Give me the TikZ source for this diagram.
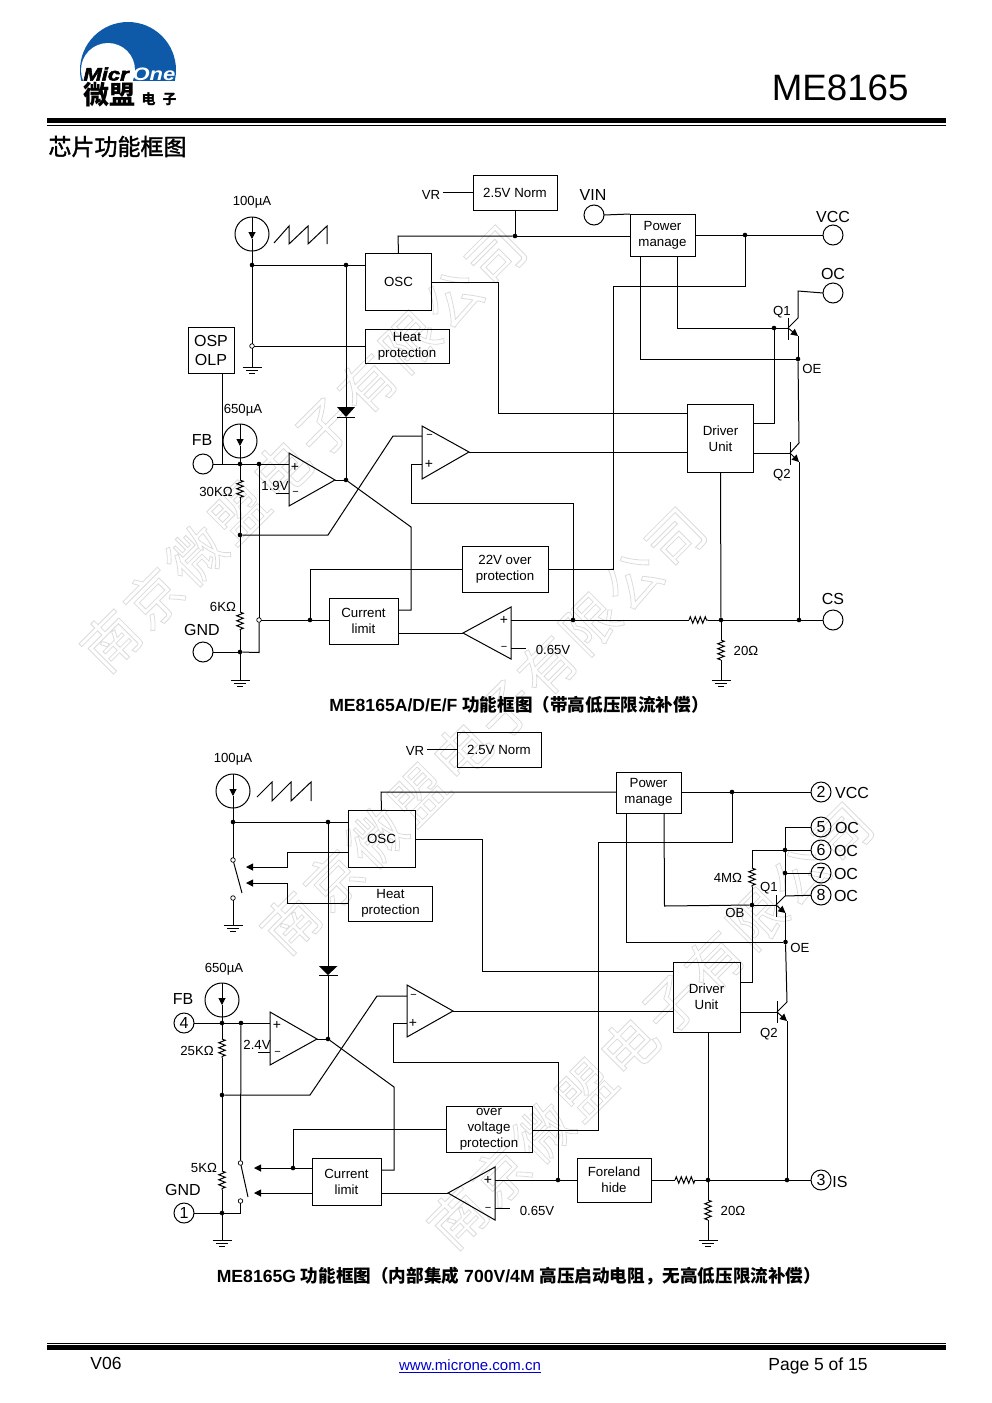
\documentclass[tikz,border=0pt]{standalone}
\usepackage{fontspec}
\setmainfont{Liberation Sans}
\newfontfamily\cjk{Noto Sans CJK SC}
\newfontfamily\wmfont{Noto Sans CJK SC}[LetterSpace=8]
\usetikzlibrary{arrows.meta, decorations.pathmorphing}
\definecolor{microblue}{HTML}{0F5AA8}
\definecolor{linkblue}{HTML}{0000CC}

\begin{document}
\begin{tikzpicture}[
    x=1pt, y=-1pt,
    line width=1pt,
    box/.style={draw, inner sep=0pt, outer sep=0pt, align=center, font=\fontsize{13.3}{16}\selectfont},
    pin/.style={circle, draw, minimum size=20pt, inner sep=0pt, outer sep=0pt, font=\fontsize{16}{16}\selectfont},
    source/.style={circle, draw, minimum size=34pt, inner sep=0pt, outer sep=0pt},
    dotnode/.style={circle, fill, minimum size=4.6pt, inner sep=0pt, outer sep=0pt},
    opennode/.style={circle, draw, fill=white, line width=0.7pt, minimum size=4.6pt, inner sep=0pt, outer sep=0pt},
    lbl/.style={inner sep=0pt, yshift=-0.7pt, font=\fontsize{13.2}{15}\selectfont},
    biglbl/.style={inner sep=0pt, yshift=-0.8pt, font=\fontsize{16}{18}\selectfont},
    signlbl/.style={inner sep=0pt, font=\fontsize{14}{14}\selectfont},
    minuslbl/.style={inner sep=0pt, font=\fontsize{11}{11}\selectfont},
    caption/.style={inner sep=0pt, font=\fontsize{17.6}{19}\selectfont\bfseries},
    footer/.style={inner sep=0pt, font=\fontsize{17.5}{19}\selectfont},
    res/.style={decorate, decoration={zigzag, segment length=5pt, amplitude=3.2pt}},
    tipline/.style={-{Triangle[length=7pt, width=7pt]}},
    wmark/.style={rotate=45, inner sep=0pt, text=black!14, font=\wmfont\fontsize{56}{56}\selectfont}
]
\useasboundingbox (0,0) rectangle (991,1403);

% Watermarks
\node[wmark] (wma) at (303,448) {\special{pdf:code q 1 Tr 0.8 w}南京微盟电子有限公司\special{pdf:code Q}};
\node[wmark] (wmb) at (483,730) {\special{pdf:code q 1 Tr 0.8 w}南京微盟电子有限公司\special{pdf:code Q}};
\node[wmark] (wmc) at (650,1025) {\special{pdf:code q 1 Tr 0.8 w}南京微盟电子有限公司\special{pdf:code Q}};

% Header
\begin{scope}
\clip (70,15) rectangle (185,80);
\fill[microblue] (128,70) circle[radius=48pt];
\fill[white] (108,70) circle[radius=27pt];
\end{scope}
\node[anchor=base west, inner sep=0pt, font=\fontsize{18}{18}\selectfont\bfseries\itshape] (logoa) at (83,80.5) {\special{pdf:code q 2 Tr 0.5 w}\scalebox{1.22}[1]{Micr}\special{pdf:code Q}};
\node[anchor=base west, inner sep=0pt, text=white, font=\fontsize{18}{18}\selectfont\bfseries\itshape] (logob) at (132,80.5) {\scalebox{1.22}[1]{One}};
\node[anchor=west, inner sep=0pt, font=\cjk\fontsize{26}{26}\selectfont\bfseries] (logoc) at (83,95) {微盟};
\node[anchor=west, inner sep=0pt, font=\cjk\fontsize{14}{14}\selectfont\bfseries] (logod) at (141,99) {电\,\,\,子};
\node[anchor=east, inner sep=0pt, font=\fontsize{36.7}{38}\selectfont] (partno) at (909,88) {ME8165};
\fill (47,118) rectangle (946,123);
\fill (47,124.5) rectangle (946,125.6);
\node[anchor=west, inner sep=0pt, font=\cjk\fontsize{23}{23}\selectfont] (heading) at (48,146.5) {\special{pdf:code q 2 Tr 0.35 w}芯片功能框图\special{pdf:code Q}};

% Upper diagram: blocks
\node[box, minimum width=66, minimum height=57] (osc) at (398.5,281.5) {OSC};
\node[box, minimum width=84, minimum height=34] (heat) at (407,346) {Heat\\protection};
\node[box, minimum width=46, minimum height=46, font=\fontsize{16}{19}\selectfont] (osp) at (211,350) {OSP\\OLP};
\node[box, minimum width=84, minimum height=35] (norm) at (515,192.5) {2.5V Norm};
\node[box, minimum width=65, minimum height=42] (power) at (662.5,235) {Power\\manage};
\node[box, minimum width=86, minimum height=46] (over) at (505,569) {22V over\\protection};
\node[box, minimum width=69, minimum height=46] (climit) at (363.5,621) {Current\\limit};
\node[box, minimum width=66, minimum height=68] (driver) at (720.5,438.5) {Driver\\Unit};

% Upper diagram: pins and sources
\node[pin] (vin) at (594,215) {};
\node[pin] (vcc) at (833,235) {};
\node[pin] (oc) at (833,293) {};
\node[pin] (cs) at (833,620) {};
\node[pin] (fb) at (203,464) {};
\node[pin] (gnd) at (203,652) {};
\node[source] (isa) at (252,234) {};
\node[source] (isb) at (240,441) {};

% Upper diagram: junctions
\node[dotnode] (ja) at (252,265) {};
\node[dotnode] (jb) at (346,265) {};
\node[dotnode] (jc) at (515,236) {};
\node[dotnode] (jd) at (745,235) {};
\node[dotnode] (je) at (774,328) {};
\node[dotnode] (jf) at (798,359) {};
\node[dotnode] (jg) at (240,464) {};
\node[dotnode] (jh) at (259,464) {};
\node[dotnode] (ji) at (346,480) {};
\node[dotnode] (jj) at (240,535) {};
\node[dotnode] (jk) at (310,620) {};
\node[dotnode] (jl) at (240,652) {};
\node[dotnode] (jm) at (573,620) {};
\node[dotnode] (jn) at (721,620) {};
\node[dotnode] (jo) at (799,620) {};
\node[opennode] (oa) at (252,346) {};
\node[opennode] (ob) at (259,620) {};

% Upper diagram: comparators
\coordinate (cmpaout) at (335,480);
\coordinate (cmpbout) at (469,452);
\coordinate (cmpcout) at (463,633);
\draw (289,453) -- (289,506) -- (cmpaout) -- cycle;
\draw (422,426) -- (422,479) -- (cmpbout) -- cycle;
\draw (511,607) -- (511,659) -- (cmpcout) -- cycle;
\node[signlbl] (pa) at (295,467) {+};
\node[minuslbl] (ma) at (295.5,493) {−};
\node[signlbl] (pb) at (429,464) {+};
\node[minuslbl] (mb) at (429.5,436) {−};
\node[signlbl] (pc) at (504,620) {+};
\node[minuslbl] (mc) at (504,648) {−};
\coordinate (cmpaplus) at (289,464);
\coordinate (cmpaminus) at (289,493);
\coordinate (cmpavref) at (276,493);
\coordinate (cmpbplus) at (422,464);
\coordinate (cmpbminus) at (422,436);
\coordinate (cmpcplus) at (511,620);
\coordinate (cmpcminus) at (511,648);
\coordinate (cmpcvref) at (526,648);

% Upper diagram: resistors and diode
\coordinate (ra) at (240,480);
\coordinate (rb) at (240,498);
\coordinate (rc) at (240,612);
\coordinate (rd) at (240,630);
\coordinate (re) at (689,620);
\coordinate (rf) at (708,620);
\coordinate (rg) at (721,640);
\coordinate (rh) at (721,660);
\draw[res] (ra) -- (rb);
\draw[res] (rc) -- (rd);
\draw[res] (re) -- (rf);
\draw[res] (rg) -- (rh);
\coordinate (diodea) at (346,407);
\coordinate (diodeb) at (346,417);
\fill (337,407) -- (355,407) -- (diodeb) -- cycle;
\draw (337,417.5) -- (355,417.5);

% Upper diagram: transistors
\coordinate (qab) at (788,328);
\coordinate (qac) at (798,318);
\coordinate (qae) at (798,336);
\coordinate (qbb) at (790,453);
\coordinate (qbc) at (799,443);
\coordinate (qbe) at (799,462);
\draw (788,318) -- (788,340);
\draw (790,442) -- (790,465);
\draw (qab) -- (qac);
\draw[tipline] (qab) -- (qae);
\draw (qbb) -- (qbc);
\draw[tipline] (qbb) -- (qbe);

% Upper diagram: wires
\draw[tipline] (isa.north) -- ([yshift=-5pt]isa.center);
\draw ([yshift=-5pt]isa.center) -- (isa.south);
\draw[tipline] (isb.north) -- ([yshift=-5pt]isb.center);
\draw ([yshift=-5pt]isb.center) -- (isb.south);
\draw (isa.south) -- (ja);
\draw (isb.south) -- (jg);
\draw (ja) -- (jb);
\draw (jb) -- (osc.west |- jb);
\draw (ja) -- (oa);
\draw (oa) -- (heat.west |- oa);
\coordinate (gnda) at (252,367);
\draw (oa) -- (gnda);
\draw (jb) -- (diodea);
\draw (diodeb) -- (ji);
\draw (osc.north) -- (398,236) -- (jc);
\draw (jc) -- (power.west |- jc);
\draw (jc) -- (norm.south);
\coordinate (vrend) at (443,192);
\draw (vrend) -- (norm.west |- vrend);
\draw (vin.east) -- (power.north west);
\draw (power.east |- jd) -- (jd);
\draw (jd) -- (vcc);
\draw (jd) -- (745,286) -- (613,286) -- (613,569) -- (over.east);
\draw (power.south -| 640,0) -- (640,359) -- (jf);
\draw (power.south -| 677,0) -- (677,328) -- (je);
\draw (je) -- (qab);
\draw (qac) -- (798,291) -- (oc.west);
\draw (qae) -- (jf);
\draw (jf) -- (qbc);
\draw (qbe) -- (jo);
\draw (driver.east |- 0,423) -- (774,423) -- (je);
\draw (driver.east |- qbb) -- (qbb);
\draw (osc.east |- 0,282) -- (498,282) -- (498,413) -- (driver.west |- 0,413);
\draw (cmpbout) -- (driver.west |- cmpbout);
\draw (driver.south) -- (jn);
\draw (osp.south -| 222,0) -- (222,464);
\draw (fb) -- (jg);
\draw (jg) -- (jh);
\draw (jh) -- (cmpaplus);
\draw (cmpavref) -- (cmpaminus);
\draw (jg) -- (ra);
\draw (rb) -- (jj);
\draw (jj) -- (rc);
\draw (rd) -- (jl);
\draw (gnd) -- (jl);
\coordinate (gndb) at (240,680);
\draw (jl) -- (gndb);
\draw (jh) -- (ob);
\draw (ob) -- (259,652.5) -- (jl);
\draw (ob) -- (jk);
\draw (jk) -- (climit.west |- jk);
\draw (jk) -- (310,569) -- (over.west);
\draw (cmpaout) -- (ji);
\draw (ji) -- (411,527) -- (411,610) -- (climit.east |- 0,610);
\draw (jj) -- (328,535) -- (393,436) -- (cmpbminus);
\draw (jm) -- (573,503) -- (411,503) -- (411,464) -- (cmpbplus);
\draw (climit.east |- cmpcout) -- (cmpcout);
\draw (cmpcplus) -- (jm);
\draw (jm) -- (re);
\draw (rf) -- (jn);
\draw (jn) -- (jo);
\draw (jo) -- (cs);
\draw (cmpcminus) -- (cmpcvref);
\draw (jn) -- (rg);
\coordinate (gndc) at (721,680);
\draw (rh) -- (gndc);

% Upper diagram: sawtooth
\coordinate (sawa) at (274,243);
\coordinate (sawb) at (327,244);
\draw (sawa) -- (289,226) -- (289,244) -- (308,226) -- (308,244) -- (327,226) -- (sawb);

% Upper diagram: labels
\node[lbl] (la) at (252,202) {100µA};
\node[lbl] (lb) at (243,410) {650µA};
\node[lbl] (lc) at (431,194) {VR};
\node[biglbl] (ld) at (593,194) {VIN};
\node[biglbl] (le) at (833,216) {VCC};
\node[biglbl] (lf) at (833,273) {OC};
\node[biglbl] (lg) at (833,598) {CS};
\node[biglbl] (lh) at (202,439) {FB};
\node[biglbl] (li) at (202,629) {GND};
\node[lbl] (lj) at (216,491) {30KΩ};
\node[lbl] (lk) at (275,485) {1.9V};
\node[lbl] (ll) at (223,606) {6KΩ};
\node[lbl] (lm) at (553,649) {0.65V};
\node[lbl] (ln) at (746,650) {20Ω};
\node[lbl] (lo) at (782,311) {Q1};
\node[lbl] (lp) at (782,474) {Q2};
\node[lbl] (lq) at (812,368) {OE};
\node[caption] (capa) at (519,705) {ME8165A/D/E/F {\cjk 功能框图（带高低压限流补偿）}};

% Lower diagram: blocks
\node[box, minimum width=67, minimum height=57] (gosc) at (381.5,838.5) {OSC};
\node[box, minimum width=84, minimum height=35] (gheat) at (390.5,903.5) {Heat\\protection};
\node[box, minimum width=84, minimum height=35] (gnorm) at (499,749.5) {2.5V Norm};
\node[box, minimum width=65, minimum height=41] (gpower) at (648.5,792.5) {Power\\manage};
\node[box, minimum width=86, minimum height=46] (gover) at (489,1129) {over\\voltage\\protection};
\node[box, minimum width=69, minimum height=47] (gclimit) at (346.5,1181.5) {Current\\limit};
\node[box, minimum width=74, minimum height=44] (gfore) at (614,1180) {Foreland\\hide};
\node[box, minimum width=67, minimum height=70] (gdriver) at (706.5,997) {Driver\\Unit};

% Lower diagram: pins and sources
\node[pin] (gpa) at (184,1023) {4};
\node[pin] (gpb) at (184,1213) {1};
\node[pin] (gpc) at (821,792) {2};
\node[pin] (gpd) at (821,827) {5};
\node[pin] (gpe) at (821,850) {6};
\node[pin] (gpf) at (821,873) {7};
\node[pin] (gpg) at (821,895) {8};
\node[pin] (gph) at (821,1180) {3};
\node[source] (gisa) at (233,791) {};
\node[source] (gisb) at (222,1000) {};

% Lower diagram: junctions
\node[dotnode] (gja) at (233,822) {};
\node[dotnode] (gjb) at (328,822) {};
\node[dotnode] (gjc) at (732,792) {};
\node[dotnode] (gjd) at (785,850) {};
\node[dotnode] (gje) at (785,873) {};
\node[dotnode] (gjf) at (752,905) {};
\node[dotnode] (gjg) at (785.5,942) {};
\node[dotnode] (gjh) at (222,1023) {};
\node[dotnode] (gji) at (241,1023) {};
\node[dotnode] (gjj) at (328,1039) {};
\node[dotnode] (gjk) at (222,1095) {};
\node[dotnode] (gjl) at (293,1168) {};
\node[dotnode] (gjm) at (222,1213) {};
\node[dotnode] (gjn) at (558,1180) {};
\node[dotnode] (gjo) at (708,1180) {};
\node[dotnode] (gjp) at (787,1180) {};
\node[opennode] (goa) at (233,860) {};
\node[opennode] (gob) at (233,898) {};
\node[opennode] (goc) at (240.5,1163) {};
\node[opennode] (god) at (240.5,1201) {};

% Lower diagram: comparators
\coordinate (gcmpaout) at (317,1039);
\coordinate (gcmpbout) at (453,1011);
\coordinate (gcmpcout) at (448,1193);
\draw (270,1012) -- (270,1065) -- (gcmpaout) -- cycle;
\draw (407,985) -- (407,1037) -- (gcmpbout) -- cycle;
\draw (495,1167) -- (495,1220) -- (gcmpcout) -- cycle;
\node[signlbl] (gpla) at (277,1025) {+};
\node[minuslbl] (gmia) at (277.5,1053) {−};
\node[signlbl] (gplb) at (413,1023) {+};
\node[minuslbl] (gmib) at (413.5,996) {−};
\node[signlbl] (gplc) at (488,1180) {+};
\node[minuslbl] (gmic) at (488,1209) {−};
\coordinate (gcmpaplus) at (270,1023);
\coordinate (gcmpaminus) at (270,1052);
\coordinate (gcmpavref) at (258,1052);
\coordinate (gcmpbplus) at (407,1023);
\coordinate (gcmpbminus) at (407,996);
\coordinate (gcmpcplus) at (495,1180);
\coordinate (gcmpcminus) at (495,1208);
\coordinate (gcmpcvref) at (510,1208);

% Lower diagram: resistors and diode
\coordinate (gra) at (222,1039);
\coordinate (grb) at (222,1058);
\coordinate (grc) at (222,1171);
\coordinate (grd) at (222,1190);
\coordinate (gre) at (675,1180);
\coordinate (grf) at (695,1180);
\coordinate (grg) at (708,1200);
\coordinate (grh) at (708,1220);
\coordinate (gri) at (752,868);
\coordinate (grj) at (752,887);
\draw[res] (gra) -- (grb);
\draw[res] (grc) -- (grd);
\draw[res] (gre) -- (grf);
\draw[res] (grg) -- (grh);
\draw[res] (gri) -- (grj);
\coordinate (gdiodea) at (328,966);
\coordinate (gdiodeb) at (328,975);
\fill (319,966) -- (337.5,966) -- (gdiodeb) -- cycle;
\draw (319,975.5) -- (337.5,975.5);

% Lower diagram: transistors
\coordinate (gqab) at (776,905);
\coordinate (gqac) at (785,896);
\coordinate (gqae) at (785.5,913);
\coordinate (gqbb) at (777,1012);
\coordinate (gqbc) at (787,1002);
\coordinate (gqbe) at (787,1021);
\draw (776,895) -- (776,917);
\draw (777,1001) -- (777,1023);
\draw (gqab) -- (gqac);
\draw[tipline] (gqab) -- (gqae);
\draw (gqbb) -- (gqbc);
\draw[tipline] (gqbb) -- (gqbe);

% Lower diagram: switches
\coordinate (gswa) at (242,893);
\coordinate (gswb) at (248,1197);
\draw (goa) -- (gswa);
\draw (goc) -- (gswb);

% Lower diagram: wires
\draw[tipline] (gisa.north) -- ([yshift=-5pt]gisa.center);
\draw ([yshift=-5pt]gisa.center) -- (gisa.south);
\draw[tipline] (gisb.north) -- ([yshift=-5pt]gisb.center);
\draw ([yshift=-5pt]gisb.center) -- (gisb.south);
\draw (gisa.south) -- (gja);
\draw (gisb.south) -- (gjh);
\draw (gja) -- (gjb);
\draw (gjb) -- (gosc.west |- gjb);
\draw (gja) -- (goa);
\coordinate (gnDa) at (233,925);
\draw (gob) -- (gnDa);
\coordinate (gsiga) at (246,867);
\coordinate (gsigb) at (246,883);
\draw[tipline] (gosc.west |- 0,852) -- (287,852) -- (287,867) -- (gsiga);
\draw[tipline] (gheat.west) -- (287,903.5) -- (287,883) -- (gsigb);
\draw (gjb) -- (gdiodea);
\draw (gdiodeb) -- (gjj);
\draw (gosc.north) -- (381,792) -- (gpower.west |- 0,792);
\coordinate (gvrend) at (427,749);
\draw (gvrend) -- (gnorm.west |- gvrend);
\draw (gpower.east |- gjc) -- (gjc);
\draw (gjc) -- (gpc);
\draw (gjc) -- (732,842) -- (598.5,842) -- (598.5,1130) -- (gover.east |- 0,1130);
\draw (gpower.south -| 626,0) -- (626,942) -- (gjg);
\draw (gpower.south -| 664,0) -- (664.5,906) -- (gjf);
\draw (gjf) -- (gqab);
\draw (gqac) -- (gpg);
\draw (gqae) -- (gjg);
\draw (gjg) -- (gqbc);
\draw (gqbe) -- (gjp);
\draw (gjp) -- (gph);
\draw (gpd.west) -- (785,827) -- (gjd);
\draw (gjd) -- (gpe);
\draw (gjd) -- (gje);
\draw (gje) -- (gpf);
\draw (gje) -- (gqac);
\draw (gjd) -- (752,850) -- (gri);
\draw (grj) -- (gjf);
\draw (gjf) -- (752,982) -- (gdriver.east |- 0,982);
\draw (gdriver.east |- gqbb) -- (gqbb);
\draw (gosc.east |- 0,839) -- (482,839) -- (482,971) -- (gdriver.west |- 0,971);
\draw (gcmpbout) -- (gdriver.west |- gcmpbout);
\draw (gdriver.south -| gjo) -- (gjo);
\draw (gpa) -- (gjh);
\draw (gjh) -- (gji);
\draw (gji) -- (gcmpaplus);
\draw (gcmpavref) -- (gcmpaminus);
\draw (gjh) -- (gra);
\draw (grb) -- (gjk);
\draw (gjk) -- (grc);
\draw (grd) -- (gjm);
\draw (gpb) -- (gjm);
\coordinate (gnDb) at (222,1240);
\draw (gjm) -- (gnDb);
\draw (gji) -- (goc);
\draw (god) -- (240.5,1213) -- (gjm);
\draw (gcmpaout) -- (gjj);
\draw (gjj) -- (394,1087) -- (394,1170) -- (gclimit.east |- 0,1170);
\draw (gjk) -- (310,1095) -- (377,996) -- (gcmpbminus);
\coordinate (gsigc) at (254,1168);
\coordinate (gsigd) at (254,1193);
\draw[tipline] (gjl) -- (gsigc);
\draw (gjl) -- (gclimit.west |- gjl);
\draw[tipline] (gclimit.west |- gsigd) -- (gsigd);
\draw (gjl) -- (293,1129) -- (gover.west |- 0,1129);
\draw (gclimit.east |- gcmpcout) -- (gcmpcout);
\draw (gjn) -- (558,1062) -- (393,1062) -- (393,1023) -- (gcmpbplus);
\draw (gcmpcplus) -- (gjn);
\draw (gjn) -- (gfore.west);
\draw (gfore.east) -- (gre);
\draw (grf) -- (gjo);
\draw (gjo) -- (gjp);
\draw (gcmpcminus) -- (gcmpcvref);
\draw (gjo) -- (grg);
\coordinate (gnDc) at (708,1240);
\draw (grh) -- (gnDc);

% Lower diagram: sawtooth
\coordinate (gsawa) at (257,797);
\coordinate (gsawb) at (311,801);
\draw (gsawa) -- (272,782) -- (272,801) -- (291,782) -- (291,801) -- (311,782) -- (gsawb);

% Grounds
\foreach \g in {gnda,gndb,gndc,gnDa,gnDb,gnDc} {
    \draw ([xshift=-9.5pt]\g) -- ([xshift=9.5pt]\g);
    \draw ([xshift=-6pt,yshift=-3pt]\g) -- ([xshift=6pt,yshift=-3pt]\g);
    \draw ([xshift=-3pt,yshift=-6pt]\g) -- ([xshift=3pt,yshift=-6pt]\g);
}

% Lower diagram: labels
\node[lbl] (gla) at (233,759) {100µA};
\node[lbl] (glb) at (224,969) {650µA};
\node[lbl] (glc) at (415,750) {VR};
\node[biglbl] (gld) at (852,792) {VCC};
\node[biglbl] (gle) at (847,827) {OC};
\node[biglbl] (glf) at (846,850) {OC};
\node[biglbl] (glg) at (846,873) {OC};
\node[biglbl] (glh) at (846,895) {OC};
\node[biglbl] (gli) at (840,1181) {IS};
\node[biglbl] (glj) at (183,998) {FB};
\node[biglbl] (glk) at (183,1189) {GND};
\node[lbl] (gll) at (197,1050) {25KΩ};
\node[lbl] (glm) at (257,1044) {2.4V};
\node[lbl] (gln) at (204,1167) {5KΩ};
\node[lbl] (glo) at (537,1210) {0.65V};
\node[lbl] (glp) at (733,1210) {20Ω};
\node[lbl] (glq) at (728,877) {4MΩ};
\node[lbl] (glr) at (735,912) {OB};
\node[lbl] (gls) at (769,887) {Q1};
\node[lbl] (glt) at (800,947) {OE};
\node[lbl] (glu) at (769,1033) {Q2};
\node[caption] (capb) at (519,1276) {ME8165G {\cjk 功能框图（内部集成} 700V/4M {\cjk 高压启动电阻，无高低压限流补偿）}};

% Footer
\fill (47,1343) rectangle (946,1344.4);
\fill (47,1345.3) rectangle (946,1349.5);
\node[footer] (ftra) at (106,1363) {V06};
\node[inner sep=0pt, text=linkblue, font=\fontsize{15}{17}\selectfont] (ftrb) at (470,1366) {\underline{www.microne.com.cn}};
\node[footer] (ftrc) at (818,1365.5) {Page 5 of 15};

\end{tikzpicture}
\end{document}
